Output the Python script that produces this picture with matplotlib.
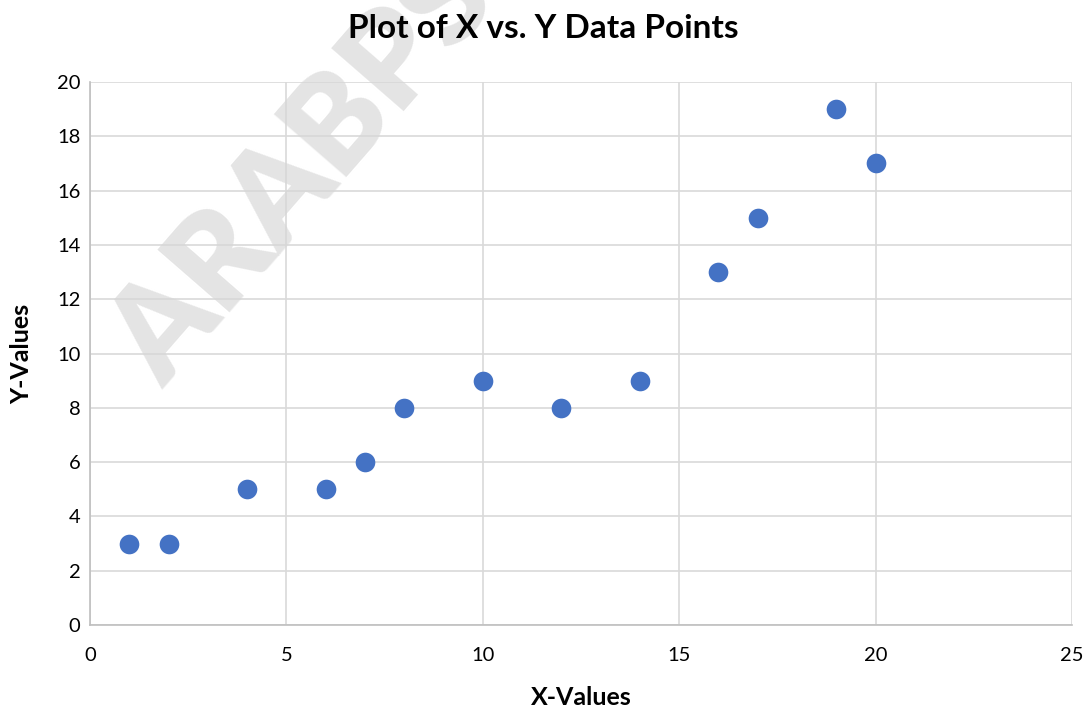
import matplotlib.pyplot as plt

x_vals = [1, 2, 4, 6, 7, 8, 10, 12, 14, 16, 17, 19, 20]
y_vals = [3, 3, 5, 5, 6, 8, 9, 8, 9, 13, 15, 19, 17]
x_ticks = [0, 5, 10, 15, 20, 25]
y_ticks = [0, 2, 4, 6, 8, 10, 12, 14, 16, 18, 20]

plt.rcParams['font.family'] = ['Lato', 'DejaVu Sans']

fig = plt.figure(figsize=(10.87, 7.09), dpi=100)
ax = fig.add_axes([0.0828, 0.1185, 0.9034, 0.7658])

ax.scatter(x_vals, y_vals, s=200, color='#4472C4', zorder=3, linewidths=0)

ax.set_xlim(0, 25)
ax.set_ylim(0, 20)
ax.set_xticks(x_ticks)
ax.set_yticks(y_ticks)
ax.grid(True, color='#d9d9d9', linewidth=1.2, zorder=0)
ax.set_axisbelow(True)
for s in ['top', 'right']:
    ax.spines[s].set_visible(False)
for s in ['left', 'bottom']:
    ax.spines[s].set_color('#bfbfbf')
    ax.spines[s].set_linewidth(1.2)
ax.tick_params(length=0, labelsize=14.5, pad=7, colors='black')
ax.tick_params(axis='x', pad=16)

ax.set_xlabel('X-Values', fontsize=18, fontweight='bold', labelpad=16)
ax.set_ylabel('Y-Values', fontsize=18, fontweight='bold', labelpad=17)

# title centred on the figure, drawn above the watermark
ax.text(0.5, 0.96, 'Plot of X vs. Y Data Points', transform=fig.transFigure,
        fontsize=24, fontweight='bold', ha='center', va='center', zorder=5, clip_on=False)

# watermark (behind the points and title)
ax.text(0.083, 0.43, 'ARABPS', transform=fig.transFigure, fontsize=94, fontweight='heavy',
        color='#d6d6d6', alpha=0.65, rotation=49, ha='left', va='bottom', zorder=1,
        clip_on=False)

fig.savefig('out.png', dpi=100)
